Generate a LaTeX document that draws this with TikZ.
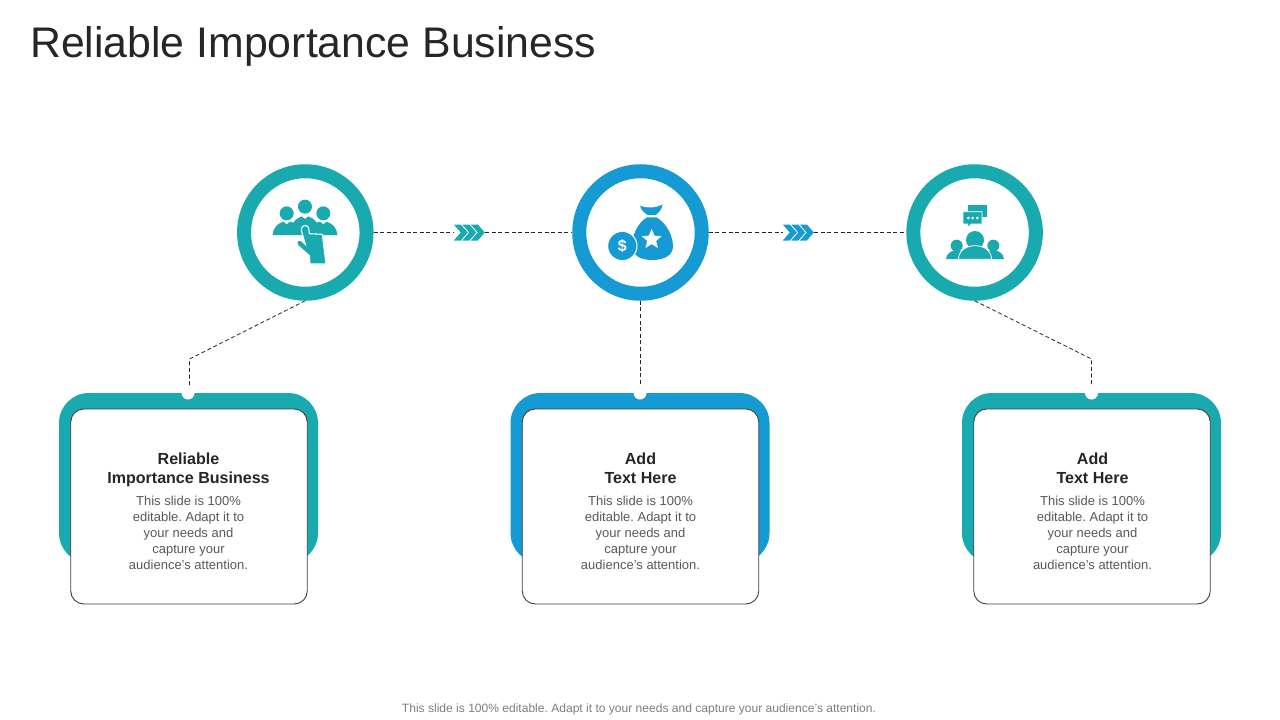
\documentclass[tikz,border=0pt]{standalone}
\usepackage{fontspec}
\setmainfont{Liberation Sans}
\definecolor{tealc}{HTML}{18AAAF}
\definecolor{bluec}{HTML}{169AD4}
\definecolor{inkc}{HTML}{262626}
\definecolor{bodyc}{HTML}{595959}
\definecolor{footc}{HTML}{7F7F7F}
\definecolor{edgec}{HTML}{404040}
\tikzset{
  ring/.style={circle,draw=#1,line width=14pt,fill=white,minimum size=122.5pt,inner sep=0pt},
  cardback/.style={rectangle,rounded corners=30pt,fill=#1,minimum width=259pt,minimum height=170pt,inner sep=0pt},
  card/.style={rectangle,rounded corners=13pt,draw=edgec,line width=.9pt,fill=white,minimum width=236.5pt,minimum height=195pt,inner sep=0pt},
  notchdot/.style={circle,fill=white,minimum size=13pt,inner sep=0pt},
  flowgap/.style={rectangle,fill=white,minimum width=31pt,minimum height=16pt,inner sep=0pt},
  linkline/.style={draw=inkc,line width=.8pt,dash pattern=on 4pt off 2.6pt},
  headtext/.style={align=center,text=inkc,font=\frenchspacing\fontsize{16.05}{19}\selectfont\bfseries,inner sep=0pt},
  bodytext/.style={align=center,text=bodyc,font=\frenchspacing\fontsize{13}{16}\selectfont,inner sep=0pt},
  titletext/.style={anchor=west,text=inkc,font=\fontsize{42.8}{50}\selectfont,inner sep=0pt},
  foottext/.style={text=footc,font=\frenchspacing\fontsize{12.05}{14}\selectfont,inner sep=0pt},
}
\newcommand{\chevrons}[2]{%
  \foreach \d in {0,8.5,17}{
    \fill[#2] ([xshift=\d pt]#1.west) ++(0,8) -- ++(7,0) -- ++(7,-8) -- ++(-7,-8) -- ++(-7,0) -- ++(7,8) -- cycle;
  }}
\begin{document}
\begin{tikzpicture}[x=1pt,y=-1pt]
\useasboundingbox[fill=white] (0,0) rectangle (1280,720);
\node[titletext] (title) at (30,46) {Reliable Importance Business};

% card backs and cards
\node[cardback=tealc] (back1) at (188.5,478) {};
\node[cardback=bluec] (back2) at (640,478) {};
\node[cardback=tealc] (back3) at (1091.5,478) {};
\node[card] (card1) at (189,506.5) {};
\node[card] (card2) at (640.5,506.5) {};
\node[card] (card3) at (1092,506.5) {};
\node[notchdot] (notch1) at (188,393) {};
\node[notchdot] (notch2) at (640,393) {};
\node[notchdot] (notch3) at (1091.5,393) {};

% rings
\node[ring=tealc] (ring1) at (305.3,232.5) {};
\node[ring=bluec] (ring2) at (640.5,232.5) {};
\node[ring=tealc] (ring3) at (974.6,232.5) {};

% flow markers
\node[flowgap] (flow1) at (469.5,232.5) {};
\node[flowgap] (flow2) at (798.5,232.5) {};

% connectors
\coordinate (bend1) at (189.5,359);
\coordinate (bend3) at (1091.5,359);
\draw[linkline] (ring1.east) -- (flow1.west);
\draw[linkline] (flow1.east) -- (ring2.west);
\draw[linkline] (ring2.east) -- (flow2.west);
\draw[linkline] (flow2.east) -- (ring3.west);
\draw[linkline] (ring1.south) -- (bend1) -- (bend1 |- notch1.north);
\draw[linkline] (ring2.south) -- (ring2.south |- notch2.north);
\draw[linkline] (ring3.south) -- (bend3) -- (bend3 |- notch3.north);
\chevrons{flow1}{tealc}
\chevrons{flow2}{bluec}

% icon 1: people and hand
\begin{scope}[shift={(230,155)},scale=1/3]
  \fill[tealc] (170,175) circle[radius=21] (225,155) circle[radius=21] (280,175) circle[radius=21];
  \fill[tealc] (128,240) .. controls (130,214) and (145,206) .. (160,200) -- (170,208) -- (180,200)
     -- (190,203) .. controls (198,192) and (205,188) .. (215,184) -- (225,192) -- (235,184)
     .. controls (245,188) and (252,192) .. (260,203) -- (270,200) -- (280,208) -- (290,200)
     .. controls (305,206) and (320,214) .. (322,240) -- cycle;
  \fill[tealc,draw=white,line width=1.1pt] (214,226) .. controls (214,206) and (237,206) .. (237,226)
     -- (238,236) -- (277,238) -- (283,288) -- (288,327) -- (240,327) -- (238,302) -- (204,272)
     .. controls (194,262) and (206,250) .. (216,258) -- (226,268) -- cycle;
\end{scope}

% icon 2: money bag and coin
\begin{scope}[shift={(565,155)},scale=1/3]
  \fill[bluec] (225,152) .. controls (245,160) and (272,160) .. (293,148)
     .. controls (290,165) and (280,174) .. (272,180) -- (248,180) .. controls (238,174) and (228,165) .. (225,152) -- cycle;
  \fill[bluec] (246,187) -- (274,187) .. controls (302,202) and (324,240) .. (324,275)
     .. controls (323,300) and (300,315) .. (262,315) .. controls (225,315) and (202,300) .. (201,275)
     .. controls (200,240) and (220,202) .. (246,187) -- cycle;
  \fill[white] (260,222) -- (268.5,242) -- (290,243.5) -- (273.5,257.5) -- (278.5,279) -- (260,267.5)
     -- (241.5,279) -- (246.5,257.5) -- (230,243.5) -- (251.5,242) -- cycle;
  \fill[bluec,draw=white,line width=1pt] (172,273) circle[radius=44];
  \node[text=white,font=\fontsize{16}{16}\selectfont\bfseries,inner sep=0pt] (dollar) at (172,273) {\$};
\end{scope}

% icon 3: audience and speech
\begin{scope}[shift={(900,155)},scale=1/3]
  \fill[tealc] (205,150) rectangle (261,187);
  \fill[tealc,draw=white,line width=.8pt] (189,170) -- (246,170) -- (246,207) -- (214,207) -- (205,218) -- (203,207) -- (189,207) -- cycle;
  \fill[white] (205,189) circle[radius=4.5] (218,189) circle[radius=4.5] (232,189) circle[radius=4.5];
  \fill[tealc] (170,272) circle[radius=18] (280,272) circle[radius=18];
  \fill[tealc] (138,312) .. controls (140,296) and (152,286) .. (170,286) .. controls (188,286) and (200,296) .. (200,312) -- cycle;
  \fill[tealc] (250,312) .. controls (250,296) and (262,286) .. (280,286) .. controls (298,286) and (310,296) .. (312,312) -- cycle;
  \fill[tealc] (225,255) circle[radius=27];
  \fill[tealc,draw=white,line width=.8pt] (175,313) .. controls (176,290) and (195,272) .. (225,272)
     .. controls (255,272) and (274,290) .. (275,313) -- cycle;
\end{scope}

% card text
\node[headtext] (h1) at (188.5,469.7) {\strut Reliable\\Importance Business\strut};
\node[headtext] (h2) at (640.5,469.7) {\strut Add\\Text Here\strut};
\node[headtext] (h3) at (1092.5,469.7) {\strut Add\\Text Here\strut};
\node[bodytext] (b1) at (188.5,532.5) {This slide is 100\%\\editable. Adapt it to\\your needs and\\capture your\\audience's attention.};
\node[bodytext] (b2) at (640.5,532.5) {This slide is 100\%\\editable. Adapt it to\\your needs and\\capture your\\audience's attention.};
\node[bodytext] (b3) at (1092.5,532.5) {This slide is 100\%\\editable. Adapt it to\\your needs and\\capture your\\audience's attention.};
\node[foottext] (foot) at (639,709.2) {This slide is 100\% editable. Adapt it to your needs and capture your audience's attention.};
\end{tikzpicture}
\end{document}
